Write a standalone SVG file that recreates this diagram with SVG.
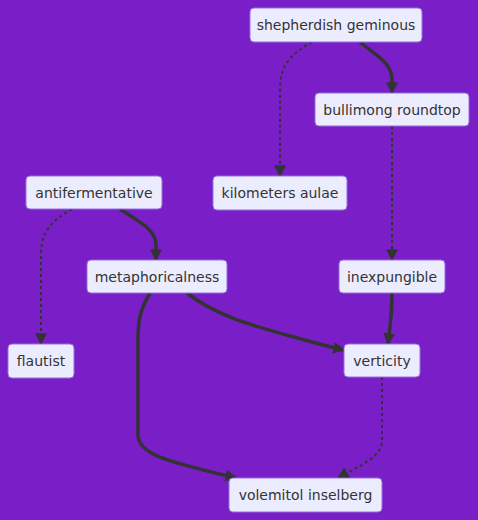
<svg xmlns="http://www.w3.org/2000/svg" width="478" height="520" viewBox="0 0 478 520">
<style>
.node rect{fill:#ECECFF;stroke:#9370DB;stroke-width:1}
.node text{font-family:"DejaVu Sans",sans-serif;font-size:14px;fill:#333333;text-anchor:middle;dominant-baseline:central}
.edge{fill:none;stroke:#333333}
.solid{stroke-width:3.5}
.dot{stroke-width:2;stroke-dasharray:3 3}
</style>
<defs>
<marker id="arr" viewBox="0 0 10 10" refX="9" refY="5" markerWidth="12" markerHeight="12" markerUnits="userSpaceOnUse" orient="auto">
<path d="M0,0 L10,5 L0,10 z" fill="#333333"/>
</marker>
</defs>
<rect width="478" height="520" fill="#7A1FC8"/>
<g id="connectors">
<path class="edge solid" d="M360,42 C375,55 392,62 392,80 L392,93" marker-end="url(#arr)"/>
<path class="edge dot" d="M312,42 C290,55 280,65 280,90 L280,176" marker-end="url(#arr)"/>
<path class="edge dot" d="M392,126 L392,260" marker-end="url(#arr)"/>
<path class="edge solid" d="M120,209 C140,222 156,230 156,245 L156,260" marker-end="url(#arr)"/>
<path class="edge dot" d="M72,209 C50,222 41,232 41,255 L41,344" marker-end="url(#arr)"/>
<path class="edge solid" d="M187,293 C215,315 250,325 290,336 S330,347 344,350" marker-end="url(#arr)"/>
<path class="edge solid" d="M150,293 C140,310 138,320 138,340 L138,435 C138,455 170,462 236,478" marker-end="url(#arr)"/>
<path class="edge solid" d="M392,293 C392,315 390,325 388,344" marker-end="url(#arr)"/>
<path class="edge dot" d="M382,377 L382,440 C382,458 360,465 338,478" marker-end="url(#arr)"/>
</g>
<g id="shepherdish-geminous" class="node"><rect x="250" y="8" width="172" height="34" rx="4"/><text x="336" y="25">shepherdish geminous</text></g>
<g id="bullimong-roundtop" class="node"><rect x="315" y="93" width="154" height="33" rx="4"/><text x="392" y="109.5">bullimong roundtop</text></g>
<g id="antifermentative" class="node"><rect x="26" y="176" width="136" height="33" rx="4"/><text x="94" y="192.5">antifermentative</text></g>
<g id="kilometers-aulae" class="node"><rect x="213" y="176" width="134" height="34" rx="4"/><text x="280" y="193">kilometers aulae</text></g>
<g id="metaphoricalness" class="node"><rect x="87" y="260" width="140" height="33" rx="4"/><text x="157" y="276.5">metaphoricalness</text></g>
<g id="inexpungible" class="node"><rect x="339" y="260" width="106" height="33" rx="4"/><text x="392" y="276.5">inexpungible</text></g>
<g id="flautist" class="node"><rect x="8" y="344" width="66" height="34" rx="4"/><text x="41" y="361">flautist</text></g>
<g id="verticity" class="node"><rect x="344" y="344" width="76" height="33" rx="4"/><text x="382" y="360.5">verticity</text></g>
<g id="volemitol-inselberg" class="node"><rect x="229" y="478" width="153" height="34" rx="4"/><text x="305.5" y="495">volemitol inselberg</text></g>
</svg>
